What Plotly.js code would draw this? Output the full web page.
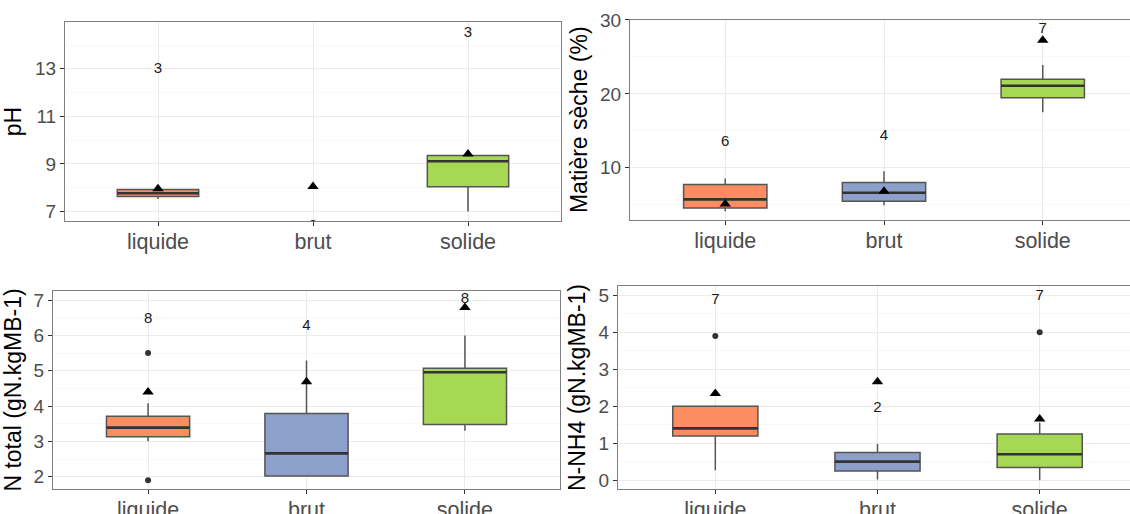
<!DOCTYPE html>
<html>
<head>
<meta charset="utf-8">
<script src="https://cdn.plot.ly/plotly-3.0.1.min.js"></script>
<style>
html,body{margin:0;padding:0;overflow:hidden;background:#fff;}
#chart{width:1140px;height:514px;}
</style>
</head>
<body>
<div id="chart"></div>
<script>
// ---------- data ----------
const categories = ['liquide', 'brut', 'solide'];
const fillColors = ['#FC8D62', '#8DA0CB', '#A6D854'];

// pH
const ph_q1 = [7.63, null, 8.04];
const ph_median = [7.77, null, 9.11];
const ph_q3 = [7.92, null, 9.36];
const ph_low = [7.53, null, 7.0];
const ph_high = [7.92, null, 9.36];
const ph_mean = [7.96, 8.05, 9.42];
const ph_n = ['3', '2', '3'];
const ph_n_y = [12.97, 6.4, 14.5];
const ph_out_x = [];
const ph_out_y = [];

// Matière sèche (%)
const ms_q1 = [4.57, 5.47, 19.46];
const ms_median = [5.74, 6.63, 21.1];
const ms_q3 = [7.76, 8.03, 21.98];
const ms_low = [4.12, 4.93, 17.5];
const ms_high = [8.57, 9.55, 23.9];
const ms_mean = [5.1, 6.82, 27.25];
const ms_n = ['6', '4', '7'];
const ms_n_y = [13.5, 14.3, 28.8];
const ms_out_x = [];
const ms_out_y = [];

// N total
const nt_q1 = [3.13, 2.02, 3.48];
const nt_median = [3.39, 2.66, 4.96];
const nt_q3 = [3.71, 3.79, 5.07];
const nt_low = [3.0, 2.02, 3.3];
const nt_high = [4.08, 5.29, 6.0];
const nt_mean = [4.4, 4.69, 6.79];
const nt_n = ['8', '4', '8'];
const nt_n_y = [6.47, 6.27, 7.02];
const nt_out_x = ['liquide', 'liquide'];
const nt_out_y = [5.5, 1.9];

// N-NH4
const nh_q1 = [1.19, 0.25, 0.34];
const nh_median = [1.40, 0.5, 0.7];
const nh_q3 = [2.0, 0.75, 1.25];
const nh_low = [0.27, 0.02, 0.0];
const nh_high = [2.0, 0.98, 1.55];
const nh_mean = [2.34, 2.66, 1.65];
const nh_n = ['7', '2', '7'];
const nh_n_y = [4.87, 1.95, 4.98];
const nh_out_x = ['liquide', 'solide'];
const nh_out_y = [3.9, 4.0];

// ---------- building ----------
const W = 1140, H = 514;
const FONT = 'Liberation Sans, Arial, sans-serif';

const panels = [
  {key:'', q1:ph_q1, med:ph_median, q3:ph_q3, lo:ph_low, hi:ph_high, mean:ph_mean, n:ph_n, ny:ph_n_y, ox:ph_out_x, oy:ph_out_y,
   title:'pH', x0:65, x1:561, y0:22, y1:221, range:[6.6, 14.97], dtick:2, tick0:7, minor:1, standoff:8},
  {key:'2', q1:ms_q1, med:ms_median, q3:ms_q3, lo:ms_low, hi:ms_high, mean:ms_mean, n:ms_n, ny:ms_n_y, ox:ms_out_x, oy:ms_out_y,
   title:'Matière sèche (%)', x0:630, x1:1138, y0:19.5, y1:220, range:[2.95, 30.05], dtick:10, tick0:0, minor:5, standoff:6},
  {key:'3', q1:nt_q1, med:nt_median, q3:nt_q3, lo:nt_low, hi:nt_high, mean:nt_mean, n:nt_n, ny:nt_n_y, ox:nt_out_x, oy:nt_out_y,
   title:'N total (gN.kgMB-1)', x0:53, x1:560, y0:291, y1:489, range:[1.65, 7.26], dtick:1, tick0:0, minor:0.5, standoff:6},
  {key:'4', q1:nh_q1, med:nh_median, q3:nh_q3, lo:nh_low, hi:nh_high, mean:nh_mean, n:nh_n, ny:nh_n_y, ox:nh_out_x, oy:nh_out_y,
   title:'N-NH4 (gN.kgMB-1)', x0:618, x1:1137, y0:286, y1:489, range:[-0.24, 5.25], dtick:1, tick0:0, minor:0.5, standoff:6}
];

const traces = [];
const layout = {
  width: W, height: H,
  margin: {l:0, r:0, t:0, b:0, pad:0},
  paper_bgcolor: '#ffffff', plot_bgcolor: '#ffffff',
  showlegend: false,
  boxgap: 0.25,
  font: {family: FONT, color: '#4D4D4D'}
};

panels.forEach(p => {
  const xa = 'x' + p.key, ya = 'y' + p.key;
  const xName = 'xaxis' + p.key, yName = 'yaxis' + p.key;
  categories.forEach((c, i) => {
    if (p.q1[i] === null) return;
    // box with whiskers
    traces.push({
      type: 'box', xaxis: xa, yaxis: ya,
      x: [c], q1: [p.q1[i]], median: [p.med[i]], q3: [p.q3[i]],
      lowerfence: [p.lo[i]], upperfence: [p.hi[i]],
      fillcolor: fillColors[i],
      line: {color: '#555555', width: 1.5},
      whiskerwidth: 0,
      boxpoints: false, hoverinfo: 'skip'
    });
    // thicker median bar (degenerate box at the median)
    traces.push({
      type: 'box', xaxis: xa, yaxis: ya,
      x: [c], q1: [p.med[i]], median: [p.med[i]], q3: [p.med[i]],
      lowerfence: [p.med[i]], upperfence: [p.med[i]],
      fillcolor: 'rgba(0,0,0,0)',
      line: {color: '#333333', width: 2.6},
      whiskerwidth: 0,
      boxpoints: false, hoverinfo: 'skip'
    });
  });
  if (p.ox.length) {
    traces.push({
      type: 'scatter', mode: 'markers', xaxis: xa, yaxis: ya,
      x: p.ox, y: p.oy,
      marker: {symbol: 'circle', size: 6, color: '#333333'},
      hoverinfo: 'skip'
    });
  }
  traces.push({
    type: 'scatter', mode: 'markers', xaxis: xa, yaxis: ya,
    x: categories, y: p.mean,
    marker: {symbol: 'triangle-up', size: 10, color: '#000000'},
    hoverinfo: 'skip'
  });
  traces.push({
    type: 'scatter', mode: 'text', xaxis: xa, yaxis: ya,
    x: categories, y: p.ny, text: p.n,
    textposition: 'middle center',
    textfont: {family: FONT, size: 15, color: '#1a1a1a'},
    cliponaxis: true,
    hoverinfo: 'skip'
  });

  layout[xName] = {
    domain: [p.x0 / W, p.x1 / W],
    anchor: ya,
    type: 'category', categoryorder: 'array', categoryarray: categories,
    range: [-0.6, 2.6],
    showgrid: true, gridcolor: '#EBEBEB', gridwidth: 1,
    zeroline: false,
    showline: true, linecolor: '#7F7F7F', linewidth: 1, mirror: true,
    ticks: 'outside', ticklen: 4, tickcolor: '#333333', tickwidth: 1,
    ticklabelstandoff: -3,
    tickfont: {family: FONT, size: 21.5, color: '#4D4D4D'},
    fixedrange: true
  };
  layout[yName] = {
    domain: [1 - p.y1 / H, 1 - p.y0 / H],
    anchor: xa,
    range: p.range, autorange: false,
    tick0: p.tick0, dtick: p.dtick,
    showgrid: true, gridcolor: '#EBEBEB', gridwidth: 1,
    minor: {dtick: p.minor, tick0: p.tick0, showgrid: true, gridcolor: '#F3F3F3', gridwidth: 0.6, ticks: ''},
    zeroline: false,
    showline: true, linecolor: '#7F7F7F', linewidth: 1, mirror: true,
    ticks: 'outside', ticklen: 4, tickcolor: '#333333', tickwidth: 1,
    tickfont: {family: FONT, size: 19, color: '#4D4D4D'},
    title: {text: p.title, font: {family: FONT, size: 23, color: '#000000'}, standoff: p.standoff},
    fixedrange: true
  };
});

Plotly.newPlot('chart', traces, layout, {displayModeBar: false, staticPlot: true});
</script>
</body>
</html>
